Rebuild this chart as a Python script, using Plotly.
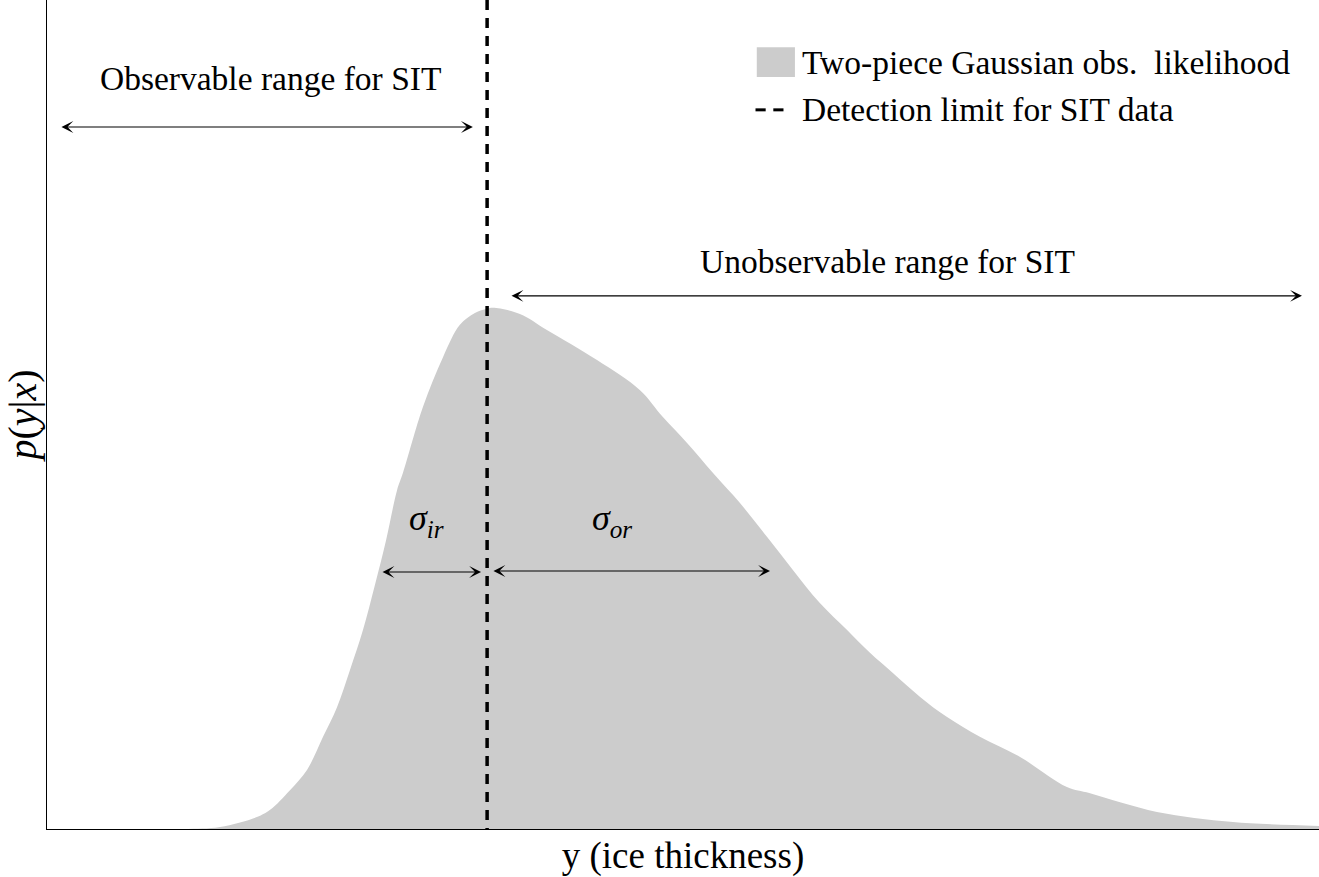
import plotly.graph_objects as go

# ---- data ----
# ice thickness (arbitrary units, axis range 0..5) and likelihood values (axis range 0..1.6)
thickness = [0.000, 0.287, 0.535, 0.680, 0.825, 0.877, 0.955, 1.022, 1.085, 1.140,
             1.191, 1.242, 1.289, 1.333, 1.376, 1.399, 1.478, 1.557, 1.623, 1.682,
             1.730, 1.753, 1.859, 1.965, 2.162, 2.331, 2.421, 2.516, 2.618, 2.724,
             2.830, 2.932, 3.038, 3.145, 3.235, 3.325, 3.432, 3.538, 3.667, 3.825,
             4.009, 4.100, 4.363, 4.662, 5.000]
likelihood = [0.000, 0.000, 0.000, 0.004, 0.023, 0.037, 0.075, 0.114, 0.178, 0.235,
              0.307, 0.384, 0.471, 0.558, 0.654, 0.687, 0.815, 0.911, 0.973, 0.996,
              1.004, 1.006, 0.994, 0.963, 0.905, 0.847, 0.795, 0.745, 0.687, 0.629,
              0.564, 0.500, 0.436, 0.384, 0.340, 0.301, 0.255, 0.216, 0.178, 0.139,
              0.081, 0.069, 0.033, 0.0135, 0.006]
detection_limit = 1.73

x_range = [0, 5]
y_range = [0, 1.6]

# range arrows: (start, end, height)
obs_arrow = (0.051, 1.674, 1.355)
unobs_arrow = (1.820, 4.933, 1.029)
sigma_ir_arrow = (1.313, 1.706, 0.496)
sigma_or_arrow = (1.749, 2.842, 0.498)

labels = {
    "obs": ("Observable range for SIT", 0.877, 1.449),
    "unobs": ("Unobservable range for SIT", 3.302, 1.096),
    "sir": ("<i>σ</i><sub><i>ir</i></sub>", 1.49, 0.596),
    "sor": ("<i>σ</i><sub><i>or</i></sub>", 2.221, 0.596),
}
legend_fill_text = "Two-piece Gaussian obs.  likelihood"
legend_line_text = "Detection limit for SIT data"

FONT = "Liberation Serif, Times New Roman, DejaVu Serif, serif"
FILL = "#cccccc"
TEXT_SIZE = 33.5

fig = go.Figure()
fig.add_trace(go.Scatter(
    x=thickness, y=likelihood, mode="lines", fill="tozeroy",
    fillcolor=FILL, line=dict(width=0, color=FILL, shape="spline", smoothing=1.0),
    showlegend=False, hoverinfo="skip"))
fig.add_trace(go.Scatter(
    x=[detection_limit, detection_limit], y=[y_range[1], y_range[0]], mode="lines",
    line=dict(color="black", width=3.5, dash="10px,8px"), showlegend=False,
    hoverinfo="skip"))

annotations = []
for (a, b, h) in [obs_arrow, unobs_arrow, sigma_ir_arrow, sigma_or_arrow]:
    annotations.append(dict(
        x=b, y=h, ax=a, ay=h, xref="x", yref="y", axref="x", ayref="y",
        text="", showarrow=True, arrowside="end+start",
        arrowhead=3, startarrowhead=3, arrowsize=1.8, startarrowsize=1.8,
        arrowwidth=1.1, arrowcolor="black", standoff=0, startstandoff=0))
for key, (txt, x, y) in labels.items():
    size = 36 if key in ("sir", "sor") else TEXT_SIZE
    annotations.append(dict(
        x=x, y=y, xref="x", yref="y", text=txt, showarrow=False,
        font=dict(family=FONT, size=size, color="black"),
        xanchor="center", yanchor="middle"))

# manual legend (paper coordinates)
annotations.append(dict(
    x=0.592, y=0.925, xref="paper", yref="paper", text=legend_fill_text,
    showarrow=False, xanchor="left", yanchor="middle",
    font=dict(family=FONT, size=TEXT_SIZE, color="black")))
annotations.append(dict(
    x=0.592, y=0.8685, xref="paper", yref="paper", text=legend_line_text,
    showarrow=False, xanchor="left", yanchor="middle",
    font=dict(family=FONT, size=TEXT_SIZE, color="black")))

shapes = [
    dict(type="rect", xref="paper", yref="paper", x0=0.558, x1=0.588,
         y0=0.907, y1=0.943, fillcolor=FILL, line=dict(width=0)),
    dict(type="line", xref="paper", yref="paper", x0=0.557, x1=0.565,
         y0=0.8675, y1=0.8675, line=dict(color="black", width=3)),
    dict(type="line", xref="paper", yref="paper", x0=0.571, x1=0.579,
         y0=0.8675, y1=0.8675, line=dict(color="black", width=3)),
]

fig.update_layout(
    width=1319, height=877,
    margin=dict(l=47, r=0, t=0, b=48),
    paper_bgcolor="white", plot_bgcolor="white",
    annotations=annotations, shapes=shapes,
    showlegend=False,
    xaxis=dict(range=x_range, showgrid=False, zeroline=False, showticklabels=False,
               ticks="", showline=True, linecolor="black", linewidth=1.4,
               title=dict(text="y (ice thickness)", standoff=12,
                          font=dict(family=FONT, size=37, color="black"))),
    yaxis=dict(range=y_range, showgrid=False, zeroline=False, showticklabels=False,
               ticks="", showline=True, linecolor="black", linewidth=1.4,
               title=dict(text="<i>p</i>(<i>y</i>|<i>x</i>)", standoff=5,
                          font=dict(family=FONT, size=40, color="black"))),
)

fig.write_html("out.html", config={"displayModeBar": False},
               post_script="document.body.style.margin='0';document.body.style.overflow='hidden';")
